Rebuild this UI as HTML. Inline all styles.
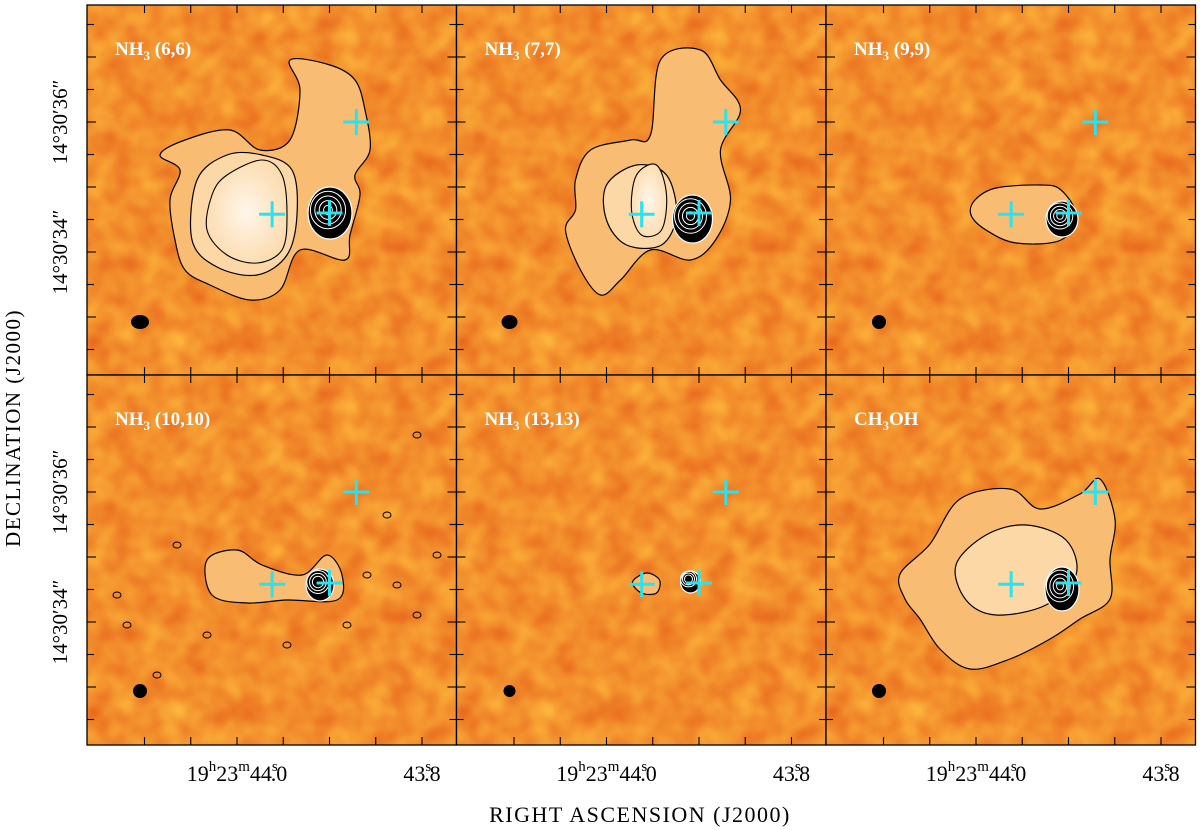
<!DOCTYPE html>
<html><head><meta charset="utf-8">
<style>
html,body{margin:0;padding:0;background:#fff;}
svg{display:block;font-family:"Liberation Serif",serif;}
</style></head>
<body>
<svg id="fig" width="1200" height="830" viewBox="0 0 1200 830" xmlns="http://www.w3.org/2000/svg">
<defs>
<filter id="mottle" x="0" y="0" width="100%" height="100%" color-interpolation-filters="sRGB">
<feTurbulence type="fractalNoise" baseFrequency="0.04" numOctaves="2" seed="7"/>
<feColorMatrix type="matrix" values="0.1 0 0 0 0.9  0.38 0 0 0 0.37  0.15 0 0 0 0.1  0 0 0 0 1"/>
</filter>
<clipPath id="pclip"><rect x="0" y="0" width="369" height="370"/></clipPath>
<radialGradient id="light1" cx="0.5" cy="0.5" r="0.6"><stop offset="0" stop-color="#fff6ea"/><stop offset="1" stop-color="#fbd9a8"/></radialGradient>
</defs>
<g id="panels"></g>
<text x="20" y="428" font-size="21" letter-spacing="1.5" text-anchor="middle" transform="rotate(-90 20 428)">DECLINATION (J2000)</text>
<text x="640" y="822" font-size="22" letter-spacing="1.5" text-anchor="middle">RIGHT ASCENSION (J2000)</text>
</svg>
<script>
// ---- data ----
const panelLabels = ["(6,6)", "(7,7)", "(9,9)", "(10,10)", "(13,13)", ""];
const panelMolecules = ["NH3", "NH3", "NH3", "NH3", "NH3", "CH3OH"];
// cross positions: RA seconds (19h23m..) and Dec arcsec (14°30'..)
const crossRA = [43.962, 43.900, 43.871];
const crossDec = [34.58, 34.60, 36.00];
const decTicks = [31.0, 31.5, 32.0, 32.5, 33.0, 33.5, 34.0, 34.5, 35.0, 35.5, 36.0, 36.5, 37.0, 37.5];
const raTicks = [44.10, 44.05, 44.00, 43.95, 43.90, 43.85, 43.80, 43.75];
const decLabels = [36, 34];
const raLabels = [44.0, 43.8];

// ---- axes ----
const PW = 369.5, PH = 370, X0 = 87, Y0 = 5;
function xScale(ra){ return 150 + (44.0 - ra) * 925; }
function yScale(dec){ return 117 + 65 * (36 - dec); }

const NS = "http://www.w3.org/2000/svg";
function mk(tag, attrs, parent){ const e = document.createElementNS(NS, tag); for (const k in attrs) e.setAttribute(k, attrs[k]); if (parent) parent.appendChild(e); return e; }
function smooth(pts){
  const n = pts.length; let d = "M" + pts[0][0] + "," + pts[0][1];
  for (let i = 0; i < n; i++){
    const p0 = pts[(i-1+n)%n], p1 = pts[i], p2 = pts[(i+1)%n], p3 = pts[(i+2)%n];
    const c1 = [p1[0]+(p2[0]-p0[0])/6, p1[1]+(p2[1]-p0[1])/6];
    const c2 = [p2[0]-(p3[0]-p1[0])/6, p2[1]-(p3[1]-p1[1])/6];
    d += "C"+c1[0].toFixed(1)+","+c1[1].toFixed(1)+" "+c2[0].toFixed(1)+","+c2[1].toFixed(1)+" "+p2[0]+","+p2[1];
  }
  return d + "Z";
}
// emission shapes (panel-relative pixels)
const shapes = [
  {outer:[[73,150],[98,135],[143,125],[173,145],[203,135],[213,85],[203,55],[243,60],[268,75],[278,105],[283,145],[268,170],[273,190],[263,230],[258,255],[213,245],[193,285],[163,295],[123,280],[98,265],[88,235],[83,195],[93,165]],
   mid:[[110,175],[140,150],[175,150],[205,165],[210,210],[200,250],[170,270],[130,262],[105,235]],
   inner:[[140,170],[175,155],[195,170],[200,210],[195,245],[170,258],[140,250],[120,225],[125,190]],
   comp:[243,208,22,26], beam:[53,317,9,7]},
  {outer:[[119,175],[134,145],[174,135],[194,130],[204,55],[244,45],[264,75],[284,105],[264,145],[274,195],[259,235],[234,255],[194,245],[164,275],[144,290],[124,265],[109,225],[119,205]],
   mid:[[150,180],[180,160],[210,170],[220,210],[205,240],[170,240],[150,215]],
   inner:[[180,170],[200,160],[210,190],[205,225],[185,230],[175,205]],
   comp:[236,214,20,24], beam:[53,317,8,7]},
  {outer:[[149,195],[170,183],[215,180],[235,185],[250,210],[235,235],[190,238],[160,225],[145,210]], comp:[236,214,16,18], beam:[53,317,7,7]},
  {outer:[[120,185],[150,175],[175,190],[215,200],[240,180],[255,200],[250,225],[200,225],[160,228],[125,220]], comp:[233,210,14,16], beam:[53,316,7,7],
   specks:[[30,220],[40,250],[70,300],[280,200],[310,210],[330,240],[120,260],[200,270],[260,250],[350,180],[330,60],[90,170],[300,140]]},
  {outer:[[176,207],[190,198],[203,205],[200,218],[185,218]], comp:[234,207,10,11], beam:[53,316,6,6]},
  {outer:[[74,199],[104,169],[134,124],[184,114],[214,134],[254,119],[274,104],[289,144],[284,184],[284,224],[254,244],[224,264],[184,284],[144,294],[114,274],[94,244],[79,224]],
   mid:[[130,190],[160,160],[200,150],[240,165],[250,200],[220,230],[170,240],[140,225]],
   comp:[236,214,17,22], beam:[53,316,7,7]}
];

const root = document.getElementById("panels");
for (let p = 0; p < 6; p++){
  const col = p % 3, row = Math.floor(p / 3);
  const ox = X0 + col * PW, oy = Y0 + row * PH;
  const g = mk("g", {transform: "translate(" + ox + "," + oy + ")"}, root);
  
  
  const inner = mk("g", {"clip-path": "url(#pclip)"}, g);
  const bg = mk("rect", {x:0, y:0, width:370, height:370, fill:"#f08c28"}, inner);
  
  
  const noise = mk("rect", {x:0, y:0, width:370, height:370, filter:"url(#mottle)"}, inner);
  
  
  const s = shapes[p];
  const em = mk("path", {d: smooth(s.outer), fill:"#f8bd73", stroke:"#000", "stroke-width":1.2}, inner);
  
  
  if (s.mid){ const m = mk("path", {d: smooth(s.mid), fill:"#fbd8a6", stroke:"#000", "stroke-width":1.2}, inner);
    
     }
  if (s.inner){ const m = mk("path", {d: smooth(s.inner), fill:"url(#light1)", stroke:"#000", "stroke-width":1.1}, inner);
    
     }
  if (s.specks){ for (const sp of s.specks){ const c = mk("ellipse", {cx:sp[0], cy:sp[1], rx:4, ry:3, fill:"none", stroke:"#000", "stroke-width":1}, inner);
    
     } }
  const cp = s.comp;
  const comp = mk("ellipse", {cx:cp[0], cy:cp[1], rx:cp[2], ry:cp[3], fill:"#000", stroke:"#fff", "stroke-width":1.2}, inner);
  
  
  for (let k = 1; k <= 4; k++){ const f = 1 - k * 0.2; if (cp[2]*f < 3) break;
    const r = mk("ellipse", {cx:cp[0]-2, cy:cp[1]-3, rx:cp[2]*f, ry:cp[3]*f*0.9, fill:"none", stroke:"#fff", "stroke-width":1}, inner);
    
     }
  const b = s.beam;
  const beam = mk("ellipse", {cx:b[0], cy:b[1], rx:b[2], ry:b[3], fill:"#000"}, inner);
  
  
  for (let i = 0; i < crossRA.length; i++){
    const cx = xScale(crossRA[i]), cy = yScale(crossDec[i]);
    const cg = mk("g", {stroke:"#29e3ee", "stroke-width":3}, inner);
    
    
    mk("line", {x1:cx-13, y1:cy, x2:cx+13, y2:cy}, cg);
    mk("line", {x1:cx, y1:cy-13, x2:cx, y2:cy+13}, cg);
  }
  // label
  const t = mk("text", {x:28, y:50, fill:"#fff", "font-size":19, "font-weight":"bold"}, g);
  
  
  const mol = panelMolecules[p];
  if (mol === "NH3"){ t.textContent = "NH"; const sub = mk("tspan", {"font-size":13, dy:5}, t); sub.textContent = "3";
    const rest = mk("tspan", {dy:-5}, t); rest.textContent = " " + panelLabels[p]; }
  else { t.textContent = "CH"; const sub = mk("tspan", {"font-size":13, dy:5}, t); sub.textContent = "3";
    const rest = mk("tspan", {dy:-5}, t); rest.textContent = "OH"; }
  // frame and ticks
  const fr = mk("rect", {x:0, y:0, width:PW, height:PH, fill:"none", stroke:"#000", "stroke-width":1.3}, g);
  
  
  const tk = mk("g", {stroke:"#000", "stroke-width":1.1}, g);
  
  
  for (const d of decTicks){ const y = yScale(d); if (y < 2 || y > PH - 2) continue;
    const L = (Math.abs(d - Math.round(d)) < 0.01) ? 9 : 7;
    mk("line", {x1:0, y1:y, x2:L, y2:y}, tk); mk("line", {x1:PW-L, y1:y, x2:PW, y2:y}, tk); }
  for (const r of raTicks){ const x = xScale(r); if (x < 2 || x > PW - 2) continue;
    mk("line", {x1:x, y1:0, x2:x, y2:8}, tk); mk("line", {x1:x, y1:PH-8, x2:x, y2:PH}, tk); }
  if (col === 0){
    for (const d of decLabels){ const y = yScale(d);
      const lt = mk("text", {x:-20, y:y, "font-size":21, "text-anchor":"middle", transform:"rotate(-90 -20 " + y + ")"}, g);
      
      
      lt.textContent = "14°30′" + d + "″"; }
  }
  if (row === 1){
    for (const r of raLabels){ const x = xScale(r);
      const lt = mk("text", {x:x, y:PH + 36, "font-size":22, "text-anchor":"middle"}, g);
      
      
      const sec = r.toFixed(1).split(".");
      if (Math.abs(r - 44.0) < 1e-6){
        lt.textContent = "19"; let sp = mk("tspan", {"font-size":15, dy:-10}, lt); sp.textContent = "h";
        sp = mk("tspan", {dy:10}, lt); sp.textContent = "23";
        sp = mk("tspan", {"font-size":15, dy:-10}, lt); sp.textContent = "m";
        sp = mk("tspan", {dy:10}, lt); sp.textContent = sec[0];
      } else { lt.textContent = sec[0]; }
      let sp = mk("tspan", {"font-size":15, dy:-10}, lt); sp.textContent = "s";
      sp = mk("tspan", {dy:10, dx:-7}, lt); sp.textContent = "." + sec[1];
    }
  }
}
</script>
</body></html>
